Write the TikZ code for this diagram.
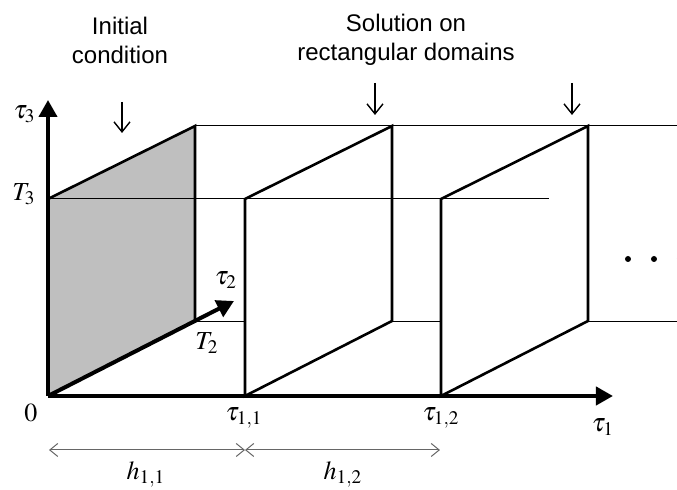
\documentclass[tikz,border=0pt]{standalone}
\usepackage{mathptmx}
\usepackage[no-math]{fontspec}
\setmainfont{Liberation Sans}
\usetikzlibrary{arrows.meta}

\begin{document}
\begin{tikzpicture}[x=0.5pt, y=-0.5pt,
    axis/.style={line width=2pt, -{Triangle[length=8.5pt,width=9pt]}},
    edgeline/.style={line width=1.3pt, line join=miter},
    guide/.style={line width=0.5pt},
    dimline/.style={line width=0.5pt, black!60, {Straight Barb[length=4pt,width=6.5pt]}-{Straight Barb[length=4pt,width=6.5pt]}},
    pointer/.style={line width=0.7pt, -{Straight Barb[length=5pt,width=8pt]}},
    lab/.style={inner sep=0pt, font=\fontsize{13}{15}\selectfont},
    note/.style={align=center, inner sep=0pt, font=\fontsize{12}{14.5}\selectfont}]

    \useasboundingbox (0,0) rectangle (677,490);

    % Axes origin and key points
    \coordinate (O) at (48,396);
    \coordinate (t1end) at (613,396);
    \coordinate (t2end) at (234,301);
    \coordinate (t3end) at (48,100);

    % Thin guide lines (behind the domains)
    \draw[guide] (195,126) -- (677,126);
    \draw[guide] (195,322) -- (677,322);

    % Initial condition (shaded)
    \fill[black!25] (48,396) -- (48,199) -- (195,126) -- (195,321) -- cycle;
    \draw[edgeline] (48,199) -- (195,126) -- (195,321);

    % Rectangular domains
    \foreach \dx in {197,393} {
        \filldraw[fill=white, edgeline] (48+\dx,396) -- (48+\dx,199) -- (195+\dx,126) -- (195+\dx,321) -- cycle;
    }

    % T3 level
    \draw[guide] (48,199) -- (549,199);

    % Axes
    \draw[axis] (O) -- (t1end);
    \draw[axis] (O) -- (t3end);
    \draw[axis] (O) -- (t2end);

    % Axis labels
    \node[lab] (zero) at (31,413) {$0$};
    \node[lab, anchor=east] (tau3) at (36,114) {$\tau_3$};
    \node[lab, anchor=east] (T3) at (36,194) {$T_3$};
    \node[lab] (tau2) at (226,280) {$\tau_2$};
    \node[lab] (T2) at (207,343) {$T_2$};
    \node[lab] (tau11) at (244,418) {$\tau_{1,1}$};
    \node[lab] (tau12) at (441,418) {$\tau_{1,2}$};
    \node[lab] (tau1) at (603,427) {$\tau_1$};

    % Step widths
    \coordinate (d0) at (49,450);
    \coordinate (d1) at (245,450);
    \coordinate (d2) at (440,450);
    \draw[dimline] (d0) -- (d1);
    \draw[dimline] (d1) -- (d2);
    \node[lab] (h11) at (146,474) {$h_{1,1}$};
    \node[lab] (h12) at (343,474) {$h_{1,2}$};

    % Continuation dots
    \foreach \x in {628,654,680} {
        \fill (\x,259) circle (3);
    }

    % Annotations
    \node[note] (init) at (120,40) {Initial\\condition};
    \node[note] (sol) at (406,40) {Solution on\\rectangular domains};
    \coordinate (a0s) at (122,102);
    \coordinate (a0e) at (122,133);
    \coordinate (a1s) at (375,83);
    \coordinate (a1e) at (375,115);
    \coordinate (a2s) at (572,83);
    \coordinate (a2e) at (572,115);
    \draw[pointer] (a0s) -- (a0e);
    \draw[pointer] (a1s) -- (a1e);
    \draw[pointer] (a2s) -- (a2e);
\end{tikzpicture}
\end{document}
